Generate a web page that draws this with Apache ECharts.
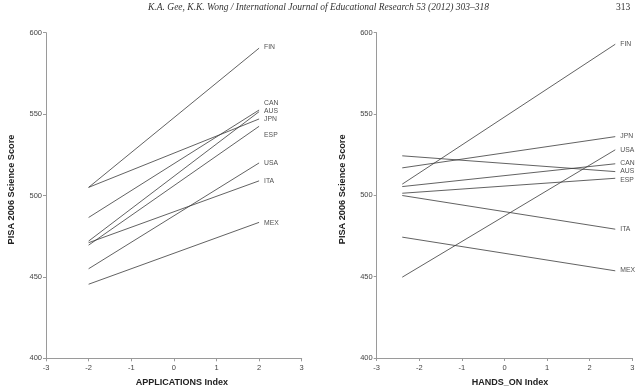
<!DOCTYPE html>
<html>
<head>
<meta charset="utf-8">
<script src="https://cdn.jsdelivr.net/npm/echarts@6/dist/echarts.min.js"></script>
<style>html,body{margin:0;padding:0;background:#fff;}#c{width:640px;height:387px;}</style>
</head>
<body>
<div id="c"></div>
<script>
const countries = ['FIN','CAN','AUS','JPN','ESP','USA','ITA','MEX'];
// Left panel: APPLICATIONS Index
const appX = [-2, 2];
const appStart = [505, 486.5, 472, 505, 469.5, 455, 471, 445.5];
const appEnd = [590.5, 552.5, 551.5, 547, 542.5, 520, 509, 483.5];
const appLabelY = [591, 556.8, 552.1, 547, 537.3, 520.1, 509.1, 483.3];
// Right panel: HANDS_ON Index
const handsX = [-2.4, 2.6];
const handsStart = [506.9, 505.4, 524.3, 516.9, 501.3, 449.7, 499.9, 474.3];
const handsEnd = [592.9, 519.4, 514.6, 536.1, 510.5, 528, 479.2, 453.6];
const handsLabelY = [592.9, 520.1, 515, 536.5, 509.5, 528, 479.4, 453.8];
const xTicks = [-3, -2, -1, 0, 1, 2, 3];
const yTicks = [400, 450, 500, 550, 600];
const yTitle = 'PISA 2006 Science Score';
const xTitles = ['APPLICATIONS Index', 'HANDS_ON Index'];
const headerText = 'K.A. Gee, K.K. Wong / International Journal of Educational Research 53 (2012) 303–318';
const pageNum = '313';

const chart = echarts.init(document.getElementById('c'), null, {renderer: 'canvas'});
const axisCol = '#9a9a9a';
const txtCol = '#444';
const xNamePad = [[0, 0, 0, 16], [0, 0, 0, 11]];
function xAxis(i) {
  return {
    type: 'value', gridIndex: i, min: xTicks[0], max: xTicks[xTicks.length - 1], interval: 1,
    name: xTitles[i], nameLocation: 'middle', nameGap: 20,
    nameTextStyle: {fontFamily: 'Liberation Sans', fontWeight: 'bold', fontSize: 9, color: '#222', padding: xNamePad[i]},
    axisLine: {show: true, onZero: false, lineStyle: {color: axisCol, width: 1}},
    axisTick: {show: true, length: 3, lineStyle: {color: axisCol}},
    axisLabel: {fontFamily: 'Liberation Sans', fontSize: 7.5, color: txtCol, margin: 6},
    splitLine: {show: false}
  };
}
function yAxis(i) {
  return {
    type: 'value', gridIndex: i, min: yTicks[0], max: yTicks[yTicks.length - 1], interval: 50,
    name: yTitle, nameLocation: 'middle', nameGap: 30, nameRotate: 90,
    nameTextStyle: {fontFamily: 'Liberation Sans', fontWeight: 'bold', fontSize: 9.2, color: '#222', padding: [0, 0, 0, 12]},
    axisLine: {show: true, onZero: false, lineStyle: {color: axisCol, width: 1}},
    axisTick: {show: true, length: 3, lineStyle: {color: axisCol}},
    axisLabel: {fontFamily: 'Liberation Sans', fontSize: 7.5, color: txtCol, margin: 4},
    splitLine: {show: false}
  };
}
const series = [];
function addPanel(i, xs, starts, ends, labelY) {
  countries.forEach((c, k) => {
    series.push({
      type: 'line', xAxisIndex: i, yAxisIndex: i, symbol: 'none', silent: true,
      lineStyle: {color: '#3a3a3a', width: 0.8},
      data: [[xs[0], starts[k]], [xs[1], ends[k]]]
    });
  });
  series.push({
    type: 'scatter', xAxisIndex: i, yAxisIndex: i, symbolSize: 0, silent: true,
    data: countries.map((c, k) => ({name: c, value: [xs[1], labelY[k]]})),
    label: {show: true, position: 'right', distance: 5, formatter: p => p.name,
      fontFamily: 'Liberation Sans', fontSize: 6.8, color: '#222'}
  });
}
addPanel(0, appX, appStart, appEnd, appLabelY);
addPanel(1, handsX, handsStart, handsEnd, handsLabelY);

chart.setOption({
  animation: false,
  backgroundColor: '#fff',
  grid: [
    {left: 46, top: 32.7, width: 255.7, height: 325.6, containLabel: false, outerBoundsMode: 'none'},
    {left: 376.7, top: 32.7, width: 255.6, height: 325.3, containLabel: false, outerBoundsMode: 'none'}
  ],
  xAxis: [xAxis(0), xAxis(1)],
  yAxis: [yAxis(0), yAxis(1)],
  series: series,
  graphic: [
    {type: 'text', left: 148, top: 2, style: {text: headerText, fontFamily: 'Liberation Serif', fontStyle: 'italic', fontSize: 9.5, fill: '#333'}},
    {type: 'text', left: 616, top: 2, style: {text: pageNum, fontFamily: 'Liberation Serif', fontSize: 9.5, fill: '#333'}}
  ]
});
</script>
</body>
</html>
